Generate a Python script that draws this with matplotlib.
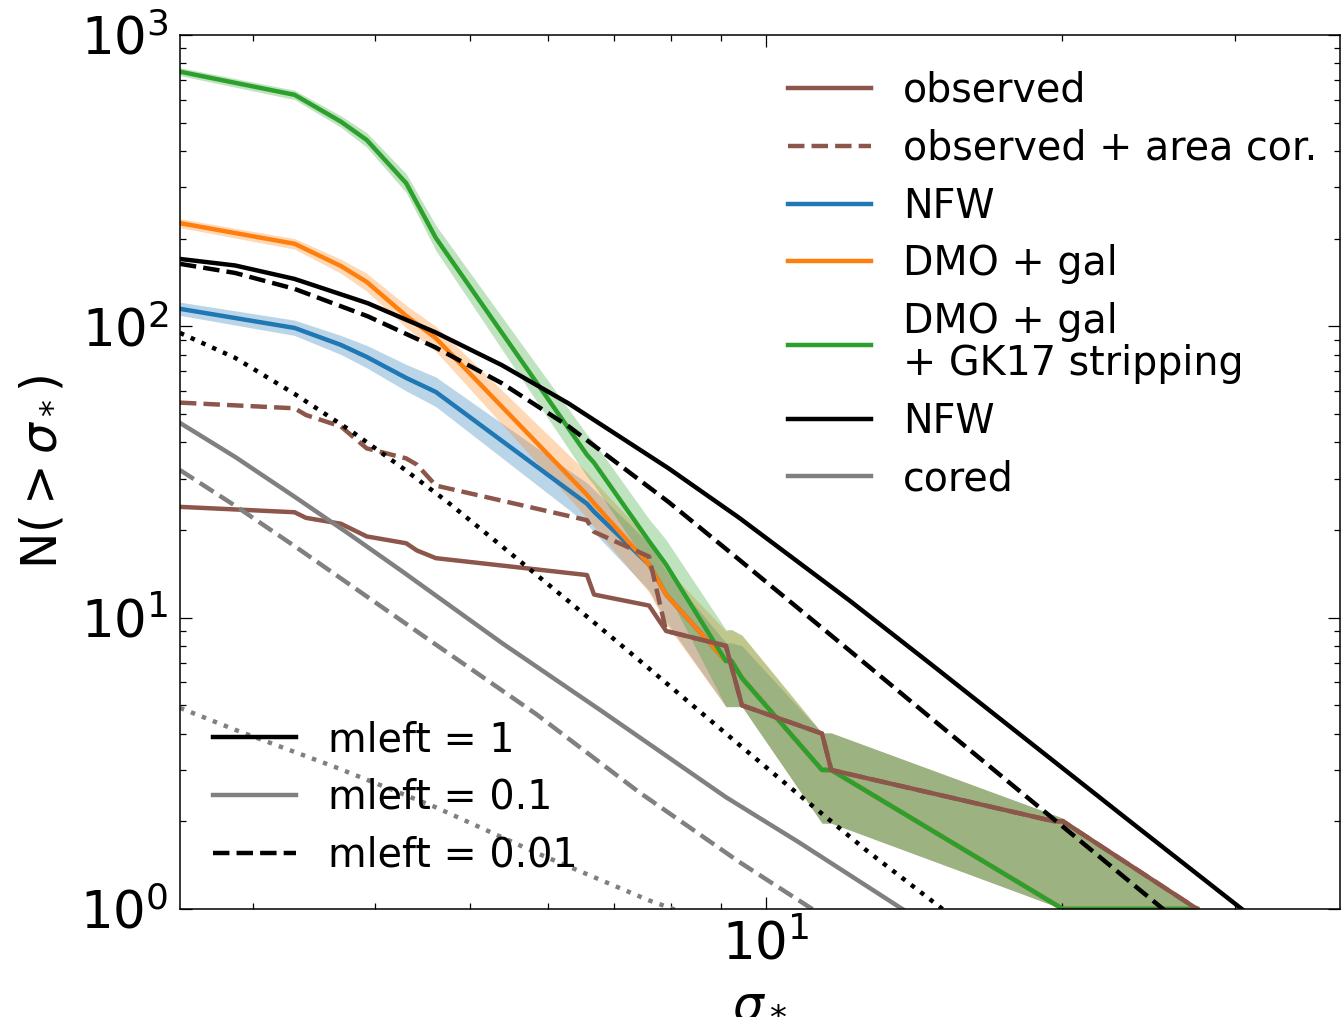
import numpy as np
import matplotlib
matplotlib.use('Agg')
import matplotlib.pyplot as plt
from matplotlib.lines import Line2D
from matplotlib.ticker import NullFormatter

# observed satellites: cumulative number above sigma_*
sig_obs = [2.53, 3.31, 3.40, 3.69, 3.92, 4.30, 4.41, 4.61, 6.57, 6.68, 7.60, 7.91,
           9.10, 9.45, 11.40, 11.65, 19.63, 20.05, 27.47]
n_obs = [24, 23, 22, 21, 19, 18, 17, 16, 14, 12, 11, 9, 8, 5, 4, 3, 2, 2, 1]
n_obs_cor = [54.7, 52.3, 49.6, 45.3, 38.1, 35.2, 33.5, 28.4, 21.6, 19.7, 16.2, 9,
             8, 5, 4, 3, 2, 2, 1]

# model predictions (median and 16-84 range)
sig_mod = [2.53, 3.31, 3.69, 3.92, 4.30, 4.61, 6.57, 6.68, 7.60, 7.91, 9.10, 9.22,
           9.45, 11.40, 11.65, 20.05, 27.47]

nfw_med = [114.8, 98.7, 86.3, 78.5, 66.5, 59.5, 24.6, 23.1, 15.2, 12.0, 7.1, 7.1,
           6.2, 3.0, 3.0, 1.0, 1.0]
nfw_lo = [109, 93, 80, 72, 60, 53, 21.0, 19.6, 12.4, 9.7, 4.95, 4.95,
          4.95, 1.97, 1.97, 1.0, 1.0]
nfw_hi = [121, 105, 93, 86, 74, 67, 29.0, 27.5, 18.0, 14.5, 8.2, 8.2,
          8.0, 4.02, 4.02, 2.05, 1.0]

dmo_med = [226, 192, 161, 142, 108.6, 91, 26.4, 24.7, 15.2, 12.0, 7.1, 7.1,
           6.2, 3.0, 3.0, 1.0, 1.0]
dmo_lo = [218, 184, 152, 132, 99, 82, 22.0, 20.5, 12.2, 9.5, 4.95, 4.95,
          4.95, 1.97, 1.97, 1.0, 1.0]
dmo_hi = [234, 200, 170, 152, 118, 100, 31.5, 29.5, 18.5, 14.8, 9.0, 9.1,
          8.7, 4.02, 4.02, 2.05, 1.0]

gk_med = [748, 623, 504, 436, 310, 201, 36.2, 34.0, 18.3, 15.2, 7.1, 7.1,
          6.2, 3.0, 3.0, 1.0, 1.0]
gk_lo = [725, 600, 482, 412, 288, 182, 30.5, 28.5, 15.0, 12.4, 4.95, 4.95,
         4.95, 1.97, 1.97, 1.0, 1.0]
gk_hi = [772, 646, 528, 462, 334, 222, 42.5, 40.0, 21.8, 18.5, 9.1, 9.1,
         8.7, 4.02, 4.02, 2.05, 1.0]

# analytic profiles for different mleft
sig_nfw1 = [2.53, 2.88, 3.31, 3.93, 4.60, 5.38, 6.29, 7.96, 9.39, 12.16, 14.77,
            18.66, 23.6, 30.5, 38.4]
n_nfw1 = [170.3, 161.7, 145.4, 120.0, 95.5, 73.6, 54.4, 32.5, 22.0, 11.45, 6.86,
          3.68, 1.97, 1.0, 0.56]

sig_nfw01 = [2.53, 2.88, 3.31, 3.93, 4.60, 5.38, 6.29, 7.96, 9.39, 12.16, 14.77,
             18.66, 25.36, 38.4]
n_nfw01 = [163.8, 152.4, 134.4, 108.2, 84.8, 63.8, 45.4, 24.9, 15.8, 7.71, 4.48,
           2.34, 1.0, 0.315]

sig_nfw001 = [2.53, 2.88, 3.31, 3.78, 4.25, 4.72, 5.38, 6.29, 7.42, 9.39, 10.81,
              12.65, 15.12, 17.29]
n_nfw001 = [94.9, 77.9, 58.6, 43.7, 32.9, 25.2, 17.6, 11.4, 7.16, 3.66, 2.46,
            1.59, 1.0, 0.71]

sig_cored1 = [2.53, 2.88, 3.31, 3.75, 4.25, 5.38, 6.80, 9.10, 10.81, 13.76, 17.29]
n_cored1 = [46.6, 35.6, 26.0, 19.5, 14.5, 8.19, 4.78, 2.42, 1.69, 1.0, 0.62]

sig_cored01 = [2.53, 2.88, 3.31, 4.60, 5.83, 7.42, 9.39, 11.14, 17.29]
n_cored01 = [32.1, 24.2, 17.6, 8.12, 4.67, 2.52, 1.45, 1.0, 0.37]

sig_cored001 = [2.53, 2.88, 3.64, 4.60, 5.83, 7.60, 8.04, 10.81]
n_cored001 = [4.90, 4.12, 3.07, 2.24, 1.56, 1.07, 1.0, 0.67]

lw = 3.2
c_obs = '#8c564b'
c_nfw = '#1f77b4'
c_dmo = '#ff7f0e'
c_gk = '#2ca02c'
c_core = '#808080'

fig = plt.figure(figsize=(13.41, 10.22), dpi=100)
ax = fig.add_axes([0.1342, 0.1106, 0.865, 0.8552])

# model bands
ax.fill_between(sig_mod, nfw_lo, nfw_hi, color=c_nfw, alpha=0.3, lw=0)
ax.fill_between(sig_mod, dmo_lo, dmo_hi, color=c_dmo, alpha=0.3, lw=0)
ax.fill_between(sig_mod, gk_lo, gk_hi, color=c_gk, alpha=0.3, lw=0)
l_nfw, = ax.plot(sig_mod, nfw_med, color=c_nfw, lw=lw)
l_dmo, = ax.plot(sig_mod, dmo_med, color=c_dmo, lw=lw)
l_gk, = ax.plot(sig_mod, gk_med, color=c_gk, lw=lw)

# data
l_obs, = ax.plot(sig_obs, n_obs, color=c_obs, lw=lw)
l_cor, = ax.plot(sig_obs, n_obs_cor, color=c_obs, lw=lw, ls='--')

# analytic curves
l_an1, = ax.plot(sig_nfw1, n_nfw1, color='k', lw=lw)
ax.plot(sig_nfw01, n_nfw01, color='k', lw=lw, ls='--')
ax.plot(sig_nfw001, n_nfw001, color='k', lw=lw, ls=':')
l_co1, = ax.plot(sig_cored1, n_cored1, color=c_core, lw=lw)
ax.plot(sig_cored01, n_cored01, color=c_core, lw=lw, ls='--')
ax.plot(sig_cored001, n_cored001, color=c_core, lw=lw, ls=':')

ax.set_xscale('log')
ax.set_yscale('log')
ax.set_xlim(2.53, 38.4)
ax.set_ylim(1, 1000)

ax.tick_params(which='both', direction='in', top=True, right=True)
ax.tick_params(which='major', length=8.5, width=0.9, pad=8)
ax.tick_params(which='minor', length=4.5, width=0.9)
ax.tick_params(axis='both', labelsize=37)
ax.xaxis.set_minor_formatter(NullFormatter())
for s in ax.spines.values():
    s.set_linewidth(1.1)

ax.set_xlabel(r'$\sigma_*$', fontsize=35)
ax.set_ylabel(r'N$(>\sigma_*)$', fontsize=35)
ax.xaxis.set_label_coords(0.5, -0.076)
ax.yaxis.set_label_coords(-0.099, 0.5)

leg1 = ax.legend([l_obs, l_cor, l_nfw, l_dmo, l_gk, l_an1, l_co1],
                 ['observed', 'observed + area cor.', 'NFW', 'DMO + gal',
                  'DMO + gal\n+ GK17 stripping', 'NFW', 'cored'],
                 loc='upper right', bbox_to_anchor=(0.994, 0.977), borderaxespad=0,
                 frameon=False, fontsize=28.5, handlelength=2.1, labelspacing=0.45)
leg1.get_texts()[4].set_linespacing(1.05)
ax.add_artist(leg1)

h2 = [Line2D([], [], color='k', lw=lw),
      Line2D([], [], color=c_core, lw=lw),
      Line2D([], [], color='k', lw=lw, ls='--')]
ax.legend(h2, ['mleft = 1', 'mleft = 0.1', 'mleft = 0.01'],
          loc='lower left', bbox_to_anchor=(0.015, 0.02), borderaxespad=0,
          frameon=False, fontsize=28.5, handlelength=2.1, labelspacing=0.45)

plt.savefig('out.png', dpi=100)
